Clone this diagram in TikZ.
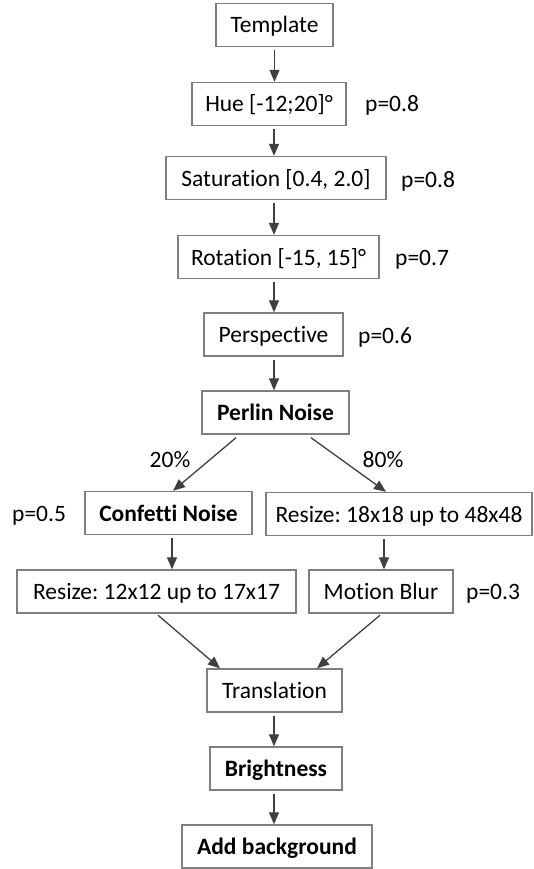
\documentclass[tikz,border=0pt]{standalone}
\usepackage{fontspec}
\setmainfont{Carlito}[Ligatures={NoCommon}]
\usetikzlibrary{calc,arrows.meta}
\definecolor{boxgray}{HTML}{7F7F7F}
\definecolor{arrgray}{HTML}{404040}
\frenchspacing
\begin{document}
\begin{tikzpicture}[x=1pt,y=-1pt,
  box/.style={draw=boxgray, line width=1.4pt, minimum height=43pt, inner sep=0pt,
    text height=18pt, text depth=2pt,
    font=\fontsize{23.5}{28}\selectfont, text=black},
  lbl/.style={font=\fontsize{23.5}{28}\selectfont, inner sep=0pt, text=black,
    text height=18pt, text depth=2pt},
  arr/.style={draw=arrgray, line width=1.3pt, -{Triangle[width=10pt,length=12pt]}}]
\fill[white] (0,0) rectangle (533,869);
\useasboundingbox (0,0) rectangle (533,869);

% boxes
\node[box, minimum width=117pt] (template) at (274.5,25) {Template};
\node[box, minimum width=154pt] (hue) at (269,104) {Hue [-12;20]°};
\node[box, minimum width=220pt] (sat) at (276,178) {Saturation [0.4, 2.0]};
\node[box, minimum width=201pt] (rot) at (278.5,257) {Rotation [-15, 15]°};
\node[box, minimum width=139pt] (persp) at (273.5,334.5) {Perspective};
\node[box, minimum width=147pt] (perlin) at (275.5,412.5) {\textbf{Perlin Noise}};
\node[box, minimum width=167pt] (confetti) at (168.5,513) {\textbf{Confetti Noise}};
\node[box, minimum width=266pt] (r18) at (399,514) {Resize: 18x18 up to 48x48};
\node[box, minimum width=279pt] (r12) at (156.5,591.5) {Resize: 12x12 up to 17x17};
\node[box, minimum width=144pt] (blur) at (381,591.5) {Motion Blur};
\node[box, minimum width=135pt] (trans) at (274.5,690.5) {Translation};
\node[box, minimum width=132pt] (bright) at (276,768.5) {\textbf{Brightness}};
\node[box, minimum width=190pt] (addbg) at (277,846.5) {\textbf{Add background}};

% labels
\node[lbl, anchor=west] (p1) at (365,104) {p=0.8};
\node[lbl, anchor=west] (p2) at (401,179) {p=0.8};
\node[lbl, anchor=west] (p3) at (395,257) {p=0.7};
\node[lbl, anchor=west] (p4) at (358,335) {p=0.6};
\node[lbl, anchor=west] (p5) at (12,513) {p=0.5};
\node[lbl, anchor=west] (p6) at (466,591.5) {p=0.3};
\node[lbl] (l20) at (170,459) {20\%};
\node[lbl] (l80) at (383,459) {80\%};

% connectors
\coordinate (spine) at (274,0);
\coordinate (cA) at ($(confetti.south)+(3.5,3)$);
\coordinate (cB) at ($(r18.south)+(-15,3)$);
\draw[arr] ($(template.south)+(0,3)$) -- (template.south |- hue.north);
\draw[arr] ($(spine |- hue.south)+(0,3)$) -- (spine |- sat.north);
\draw[arr] ($(spine |- sat.south)+(0,3)$) -- (spine |- rot.north);
\draw[arr] ($(spine |- rot.south)+(0,3)$) -- (spine |- persp.north);
\draw[arr] ($(spine |- persp.south)+(0,3)$) -- (spine |- perlin.north);
\draw[arr] ($(perlin.south)+(-39.5,3)$) -- ($(confetti.north)+(4.5,0)$);
\draw[arr] ($(perlin.south)+(35.5,3)$) -- ($(r18.north)+(-13,0)$);
\draw[arr] (cA) -- (cA |- r12.north);
\draw[arr] (cB) -- (cB |- blur.north);
\draw[arr] ($(r12.south)+(1.5,1.5)$) -- ($(trans.north)+(-54.5,0)$);
\draw[arr] ($(blur.south)+(-1,1.5)$) -- ($(trans.north)+(42.5,0)$);
\draw[arr] ($(spine |- trans.south)+(0,3)$) -- (spine |- bright.north);
\draw[arr] ($(spine |- bright.south)+(0,3)$) -- (spine |- addbg.north);
\end{tikzpicture}
\end{document}
